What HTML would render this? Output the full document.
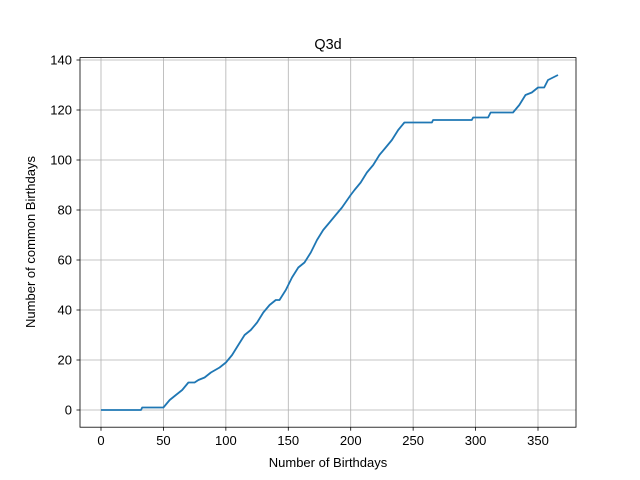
<!DOCTYPE html>
<html><head><meta charset="utf-8"><style>body{margin:0;background:#fff}svg{display:block;font-family:"Liberation Sans","DejaVu Sans",sans-serif}</style></head>
<body>
<svg id="chart" width="640" height="480" xmlns="http://www.w3.org/2000/svg">
<rect width="640" height="480" fill="#fff"/>
<g id="grid"></g>
<path id="line" fill="none" stroke="#1f77b4" stroke-width="1.8" stroke-linejoin="round"/>
<rect x="80" y="57.6" width="496" height="369.6" fill="none" stroke="#000" stroke-width="0.8"/>
<g id="ticks"></g>
<text x="328" y="49" font-size="14.4" text-anchor="middle">Q3d</text>
<text x="328" y="467" font-size="13" text-anchor="middle">Number of Birthdays</text>
<text transform="translate(35,242) rotate(-90)" font-size="13" text-anchor="middle">Number of common Birthdays</text>
</svg>
<script>
const days=[0,32,33,50,55,60,65,70,75,78,83,88,95,100,105,110,115,120,125,130,135,140,143,148,153,158,163,168,173,178,183,188,193,200,203,208,213,218,223,228,233,238,243,265,266,297,298,310,312,330,335,340,345,350,355,358,362,366];
const counts=[0,0,1,1,4,6,8,11,11,12,13,15,17,19,22,26,30,32,35,39,42,44,44,48,53,57,59,63,68,72,75,78,81,86,88,91,95,98,102,105,108,112,115,115,116,116,117,117,119,119,122,126,127,129,129,132,133,134];
const xTicks=[0,50,100,150,200,250,300,350];
const yTicks=[0,20,40,60,80,100,120,140];
const sx=v=>101+v*(437/350);
const sy=v=>410-v*2.5;
const NS="http://www.w3.org/2000/svg";
const grid=document.getElementById('grid'),ticks=document.getElementById('ticks');
function mk(t,a,p){const e=document.createElementNS(NS,t);for(const k in a)e.setAttribute(k,a[k]);p.appendChild(e);return e;}
xTicks.forEach(v=>{const x=sx(v);
const g=mk('line',{x1:x,x2:x,y1:57.6,y2:427.2,stroke:'#b0b0b0','stroke-width':0.8},grid);


mk('line',{x1:x,x2:x,y1:427.2,y2:430.7,stroke:'#000','stroke-width':0.8},ticks);
const t=mk('text',{x:x,y:445,'font-size':13,'text-anchor':'middle'},ticks);t.textContent=v;

});
yTicks.forEach(v=>{const y=sy(v);
const g=mk('line',{x1:80,x2:576,y1:y,y2:y,stroke:'#b0b0b0','stroke-width':0.8},grid);


mk('line',{x1:76.5,x2:80,y1:y,y2:y,stroke:'#000','stroke-width':0.8},ticks);
const t=mk('text',{x:72,y:y+4.5,'font-size':13,'text-anchor':'end'},ticks);t.textContent=v;

});
document.getElementById('line').setAttribute('d',days.map((d,i)=>(i?'L':'M')+sx(d).toFixed(1)+' '+sy(counts[i]).toFixed(1)).join(''));
</script>
</body></html>
